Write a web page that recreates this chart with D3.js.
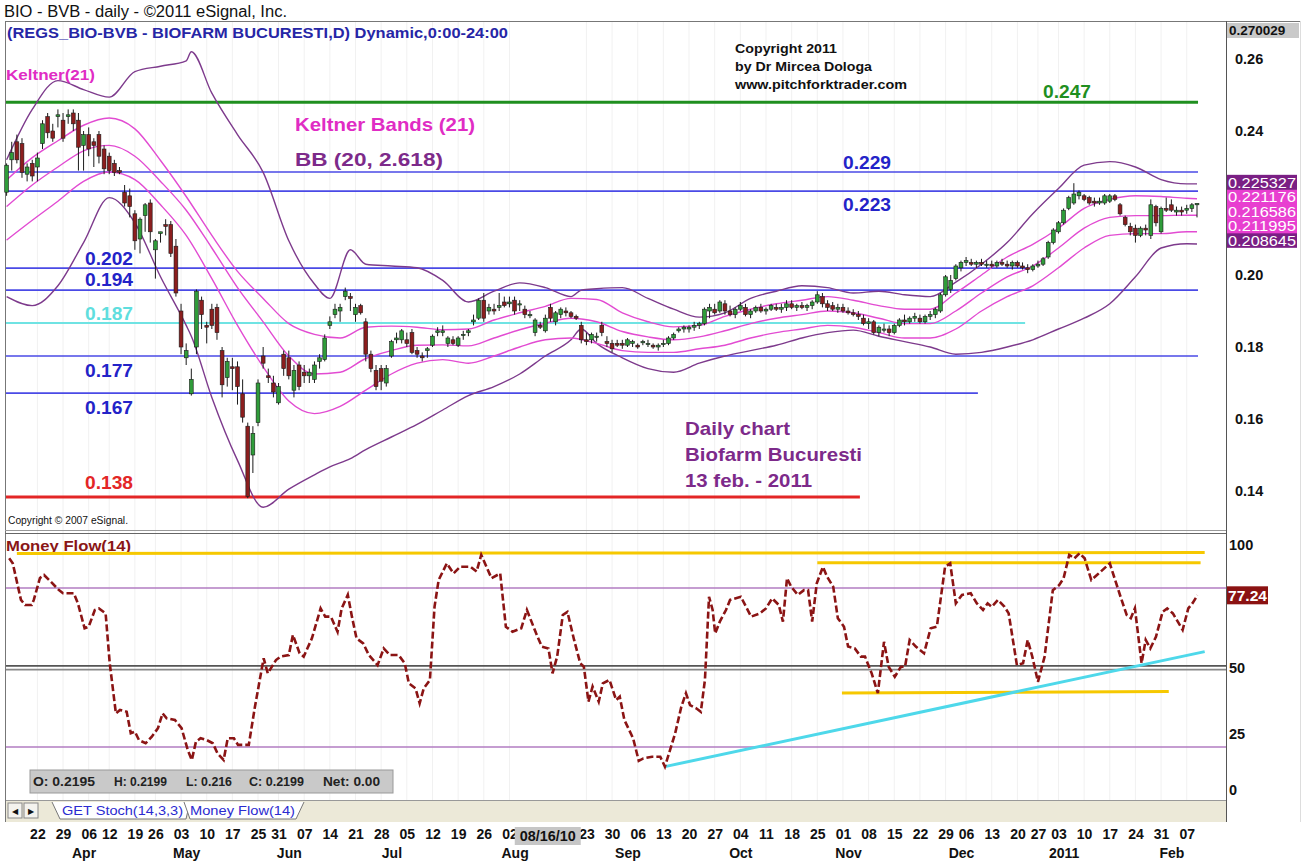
<!DOCTYPE html>
<meta charset="utf-8">
<style>
body { margin: 0; background: #fff; }
svg text { font-family: "Liberation Sans", Arial, sans-serif; }
</style>
<body>
<svg id="chart" width="1312" height="865"></svg>
<script src="https://d3js.org/d3.v7.min.js"></script>
<script>
// ---- price data, thousandths of a leu, one entry per trading day ----
var opens = [223,232,237,236.5,228,231,230,236.5,244,240,
  244,243,244,245,243,236,239,237,239,235,
  233,231,229,223,222,217,210,216.5,220,207,
  211.5,214,214,208,190,177,167,180,193,186,
  190.5,191,179,171.5,174.5,174.5,167,158,150,159,
  177.5,172,170,164.5,178,177,168,175,173,172,
  171,176,176.5,186,189,190,194,194,189,191.5,
  187,178,173.5,174,170,177.5,182,182,182,184,
  179,177.5,179,180.5,184,184,181,182,180.5,183.5,
  184,187,188,193,190,190.5,191,192.5,192,193,
  192,190.5,189,184,186,184.5,191,187,189,190,
  189.5,188.5,186,182,182,183,186,181.5,181,181,
  181,180.5,181,180.5,181.5,181,180.5,180,181,181,
  182.5,184.5,185,185,185.5,186,186.5,190,190.5,190,
  192,190,189,190.5,191,189,190,191,190,190.5,
  191,190.5,191,192,191,191.5,191,191.5,192.5,194,
  192,191.5,190.5,191,190,189.5,189,188,186.5,187,
  184,185,185,184,186,187.5,187,188,188,187,
  188.5,189,190,194.5,196,199,202,203.5,203.5,203,
  203.5,203,203,202.5,203.5,203,202.5,203.5,202.5,202,
  201.5,202.5,203,205,209,212,214.5,218.5,220,222,
  222,221.5,220.5,220,220,220.5,222,219.5,216,213.5,
  213,211,213,211,219,212,218.5,219.5,217.5,218,
  218,218.5,219.5];
var highs = [231,237,239,238,231,232,234,243,245,242,
  246,245,246,246,245,240,241,238,240,236,
  234,232,230,225,224,218,216,220,221,210,
  212,215.5,215,210,192,181,174,196,194,187,
  192,192,180,177,177,176,171,159,158,171,
  180,174,172,170,179,179,175,176,175,174,
  176,178,183.5,188.5,192,192,196.5,195,192,192,
  188,179,175,175,175,182,184,185,184,185,
  180,178.5,180,183.5,185.5,186,183,183,183,184.5,
  185,189,193.5,195,192,192,195,194,194,194,
  193,191.5,190,188,187,189,192,190,191,191,
  190,189,187,184,184,184,187,183,182,182,
  182,182.5,182,181,182,182,181,181,182,183,
  184,185.5,186,186,187,187,191,192,192,193,
  193,191.5,191,192.5,192,190.5,191.5,192,191,192,
  192,192,193,193,192,192.5,192,193,195.5,195,
  193,192.5,192,192,191,190.5,190,189,188,187.5,
  186,186.5,186,186.5,188,189,188.5,189.5,189,189,
  190,191,195,200,200,203,204,205,204.5,204,
  204.5,204,204,204,204.5,204,204,204,203.5,203,
  203,204,205,209.5,213,215,218.5,222,225.5,223.5,
  222.5,222,221.5,221.5,222.5,222.5,222.5,220,216.5,214.5,
  214,213.5,214,221,219.5,219,221.5,221,219,219,
  219.5,220,219.9];
var lows = [222,229,231,227,226,226,226,235,238,237,
  241,237,242,240,229,229,233,230,231,228,
  228,227.5,228,219,216,207,206,212,209,199,
  209,211,205,194,178,175,166.5,178,185,181,
  185,182,166,169,168,164,159,138,145,158,
  174,170,166,164,172,171,166,168,170,170,
  170,174,176,185,188,187,193,190,187,189,
  176,173,168,168,169,177,181,181,180,178,
  177,176,177,180,183,183,180,180.5,180,182,
  183,186,187.5,187,189,189,190,191,191,189,
  190,188,188,183,185,184,187,186,188,188.5,
  188,187.5,181,180.5,181,181.5,183,180,178.5,180,
  179.5,180,180,179.5,180.5,180,179.5,179,180,180.5,
  182,184,184,184,184.5,185,186,188,189,189.5,
  189,188.5,188,190,188.5,188,189.5,189.5,189,190,
  190,189.5,190,190.5,190,190.5,190,190.5,192,191,
  190,190,189.5,189.5,189,188.5,187.5,186,185,183.5,
  183,184,183,183.5,185.5,186,186.5,187,186.5,186.5,
  187.5,188,189.5,194,195,198.5,201,202.5,202.5,202,
  202.5,202,202,202,202.5,202,201.5,202,201.5,200.5,
  201,202,202.5,204.5,208.5,211.5,214,218,219.5,221,
  220.5,219.5,219,219.5,219.5,220,220.5,216.5,213.5,211,
  209,210.5,211,210,213.5,211.5,217.5,217.5,216.5,216.5,
  217,217.5,216];
var closes = [230.5,234,232,228.5,230,227.5,232.5,242,239.5,238,
  244.5,238,244.5,242,235.5,239,235,236,233,229.5,
  229,228.5,228.5,220,219,209.5,215.5,219.5,212,209.5,
  212,213.5,206,195,180,179,171,195.5,189,185.5,
  186,184,169.5,176,174,169,160.5,138.5,156,170,
  175.5,171.5,167.5,169,174,172,173.5,169,172,173,
  175,177,182.5,187,190.5,191,195.5,193.5,191,189.5,
  178,174,169,170.5,174,181.5,182.5,184.5,181,178.5,
  178,177,179.5,183,184.5,184.5,182.5,181,182.5,183.5,
  184.5,187.5,193,188,191,190,191.5,191.5,192.5,190,
  192,189,189,187.5,185.5,188,188,189.5,190.5,189.5,
  188.5,188,182,181.5,183.5,183,184,181,179.5,180.5,
  180.5,182,181.5,180,181.5,181,180,180.5,181,182.5,
  183.5,185,185.5,185.5,186,186.5,190.5,191,189.5,192.5,
  190,189,190.5,191.5,189,190,191,190,190.5,191.5,
  190.5,191,192,191,191.5,191,191.5,192.5,194.5,192,
  191,190.5,191,190,189.5,189,188.5,186.5,187,184,
  185.5,185,184,186,187.5,187,188,188.5,187,188.5,
  189,190.5,194.5,199.5,198.5,202.5,203.5,204,203,203.5,
  203,203,202.5,203.5,203,202.5,203.5,202.5,202,201.5,
  202.5,203,204.5,209,212.5,214.5,218,221.5,222.5,223,
  221,220,220,220.5,222,222,221,217,214,212,
  211,213,212.5,219.5,214.5,218.5,218,218,218,217.5,
  218.5,219.5,219.9];

// Keltner(21) bands, read every 5 trading days
var kDays = [0,5,10,15,20,25,30,35,40,45,50,55,60,65,70,75,80,85,90,95,
  100,105,110,115,120,125,130,135,140,145,150,155,160,165,170,175,180,185,190,195,
  200,205,210,215,220,225,230,232];
var kUpper = [226.4,232.6,237.3,241.6,243.6,240.6,231.8,221.8,211,201,
  193.5,186.5,183.5,182.5,185.5,185.8,185.5,184.8,185,187.5,
  189.5,191.3,193.5,193.2,189.5,187,185.6,186,188.5,190.5,
  192,193,194,193,191.5,190.5,190.5,195,200,205,
  208.5,213,218.5,221,222,221.8,221.3,221.2];
var kMid = [219,225,230,234.5,236,233,226,218,207.5,196.5,
  187,177.5,172.5,173,176.8,179,180.5,180.6,180.3,182.5,
  184.8,186.6,188,187,184.3,182.8,182,182.8,184.5,186.5,
  188,189,190,189.5,188,186.5,186.5,190,195,199.5,
  202.5,207.5,213,216,216.5,216.5,216.6,216.6];
var kLower = [209.7,215.2,220.5,226,228.6,226.5,219.5,211,199,186,
  174.5,165,161.5,163.5,168,172.5,175.5,176.5,175.5,177.5,
  180,182,182.5,181,179,178.5,178.5,179.5,180.5,182.5,
  184,185,186,185.5,184,182.5,182.5,185,190,194,
  197,202,207.5,211,211.5,211.5,212,212];

// Bollinger bands (20, 2.618)
var bbDays = [0,5,10,15,20,25,30,35,36,40,45,50,55,60,63,67,70,75,80,85,90,95,100,105,110,112,
  115,120,125,130,135,140,145,150,155,160,165,170,175,180,185,190,195,200,205,210,215,220,225,230,232];
var bbUpper = [232,246,254,251.5,249.4,256.5,258,259.5,262,250.5,239,228.5,209.5,197.5,193.5,207,
  203,202.5,202,198.5,192.5,195.5,197.8,196.5,194,195.8,
  196.2,196.5,193.5,190.5,188.3,189.5,193.5,195.5,197,196.5,195,195.5,194.5,194,198,203,209,217,224,230.5,231.5,230,226.5,225.3,225.3];
var bbLower = [194,191.5,197,209,221.5,214.5,199.5,186,183,166,148.5,135.5,140.5,144.5,146.7,149,
  151.5,155,158.5,162.5,166.5,169,172.5,177.5,182,185,
  181,177,174,173,175.5,177.5,179,180.5,182.5,184,184.7,183,181.5,180,178,178.5,180,182,185,188,192,199.5,207.5,208.7,208.6];

// drawn support / resistance levels
var levelVals = [248, 228.6, 223.3, 201.9, 195.8, 186.7, 177.5, 167.2, 138.3];
var levelEnds = [232.2, 232.2, 232.2, 199, 232.2, 198.5, 232.2, 189.3, 166.3];
var levelText = ["0.247", "0.229", "0.223", "0.202", "0.194", "0.187", "0.177", "0.167", "0.138"];

// values shown on the price scale
var scaleTop = 270.029;
var lastVals = [225.327, 221.176, 216.586, 211.995, 208.645];
var priceTicks = [140, 160, 180, 200, 240, 260];

// Money Flow(14)
var mfDay = [0.5,1.2,2.8,3.6,4.9,5.3,6.5,7.3,8.6,10.2,11,13.1,13.9,15.2,16,17.2,18,19.3,20.1,21.3,
  22.1,23.4,24.2,25,25.8,27.1,28.3,29.5,30.4,31.2,32.8,34.1,35.3,36.1,36.9,37.8,39,40.2,41.1,42.3,
  43.1,44.3,45.1,47.2,48.4,50.1,50.9,52.5,53.4,55,55.8,57.1,57.9,59.5,61.2,62.1,63.2,64.5,65.3,66.5,
  67.3,68.2,69.5,70.6,72.3,73.5,74.7,76.4,77.6,78.4,79.7,80.5,81.3,82.5,83.4,84.2,85.8,87.1,88.4,90.4,
  91.6,92.5,94.5,96.2,97.3,98.6,100.3,101.4,103.2,104.3,105.6,106.4,107.3,108.4,109.3,110.6,111.8,112.5,113.4,114.2,
  115.4,116.2,117.5,118.8,119.5,120.4,122.1,123.2,124.1,125.8,127.4,128.3,129.1,130.3,131.5,132.4,133.2,134.4,135.3,136.1,
  136.9,137.6,138.1,139,140.2,141,143.1,145.1,146.8,148,149.2,150.5,151.3,152.1,152.9,154.2,155.4,156.2,157,157.9,
  159.1,159.9,161.1,162,163.2,164,165.3,166.5,167.3,168.6,169.8,171,171.9,173.1,174.3,175.1,176,177.2,178.8,180.1,
  181.3,182.1,182.9,183.9,185,186.2,187.9,189.1,190.3,191.2,192,193.2,194.5,195.3,196.9,198.1,199,199.9,201,202.3,
  203.9,205.1,206,207.1,208.1,209.1,210.1,211.4,212.5,215,217.1,218.3,219.1,219.9,221.2,222,222.9,224,225.3,226.2,
  227.3,229.2,230.3,231.1,232.1];
var mfVal = [91.2,89.3,75.5,73.6,73.6,75.5,83.8,84.9,82.4,79.2,78,78,74.2,64.8,65.4,71.7,72.3,70.4,51.6,32.7,
  34,33.3,25.2,25.8,22.6,21.4,23.9,27.1,32.7,30.8,30.2,27.1,18.9,15.1,22,23.3,22.6,21.4,17.6,15.1,
  23.3,23.3,20.8,20.8,35.2,53.5,47.8,52.8,54.1,54.7,62.3,55.4,54.1,61,72.3,69.2,69.2,63.5,72.3,77.4,
  69.2,61,59.1,54.7,50.9,57.2,54.7,54.7,51.6,44,42.1,36.5,42.1,45.3,72.9,83,89.3,85.5,88,88,
  86.2,92.5,83.7,85.5,65.4,63.5,64.8,71.7,62.9,57.9,57.2,47.8,54.1,69.8,71,60.4,51.6,50.3,37.1,42.8,
  37.1,44,45.3,37.7,39,30.2,23.3,14.8,15.7,16.3,16.3,12.6,17.6,25.2,35.2,40.3,35.8,34.6,33.3,45.3,
  76.7,71.7,62.9,67.3,71.7,75.5,76.7,69.2,70.4,72.3,76.1,73.6,67.3,83.7,80.5,77.4,79.2,79.2,67.3,81.8,
  88,84.3,80.5,68.6,65.4,57.9,57.2,54.1,54.1,47.8,40.3,59.7,50.3,46.5,50.3,50.3,60.4,57.9,55.4,64.8,
  65.4,76.7,88,89.3,74.2,77.4,78,74.2,71.7,74.2,72.9,75.5,72.9,70.4,50.9,51.6,60.4,54.1,44.6,54.1,
  79.2,81,83.7,92.5,91.2,93.1,91.2,83,84.9,89.3,76.7,69.8,68.6,72.3,51.6,60.4,57.2,61.6,71,72.3,
  70.4,64.2,72.3,74.2,77.24];
var mfTicks = [0, 25, 50, 100];
var mfGuides = [80, 20];
// hand drawn lines on the money flow pane: [day1, value1, day2, value2]
var mfYellow = [[2, 93, 233.5, 93.4], [158, 89.5, 232.7, 89.5], [162.8, 40.4, 226.5, 40.9]];
var mfCyan = [128.3, 12.6, 233.5, 56];

// date axis (09 and 16 Aug sit under the cursor date box)
var weekIdx = [6,11,16,20,25,29,34,39,44,49,53,58,63,68,73,78,83,88,93,98,113,118,123,128,133,138,
  143,148,153,158,163,168,173,178,183,187,192,197,201,205,210,215,220,225,230];
var weekLbl = ["22","29","06","12","19","26","03","10","17","25","31","07","14","21","28","05","12","19","26","02","23","30",
  "06","13","20","27","04","11","18","25","01","08","15","22","29","06","13","20","27","03","10","17","24","31","07"];
var monthIdx = [15,35,55,75,99,121,143,164,186,206,227];
var monthLbl = ["Apr","May","Jun","Jul","Aug","Sep","Oct","Nov","Dec","2011","Feb"];
var cursorIdx = 108, cursorLbl = "08/16/10";

// ---------------------------------------------------------------
var svg = d3.select("#chart");
var x = d3.scaleLinear().domain([0, 232]).range([6.6, 1197]);
var yP = d3.scaleLinear().domain([140, 260]).range([491, 59]);
var yM = d3.scaleLinear().domain([0, 100]).range([800, 535]);
var last = closes.length - 1;

svg.append("rect").attr("width", 1312).attr("height", 865).attr("fill", "#fff");

// faint weekly grid
svg.append("g").selectAll("line").data(weekIdx).join("line")
    .attr("x1", d => x(d)).attr("x2", d => x(d))
    .attr("y1", 22).attr("y2", 800)
    .attr("stroke", "#f1f1f1").attr("stroke-width", 1);

// frame
var frame = svg.append("g").attr("stroke", "#777").attr("fill", "none");
frame.append("line").attr("x1", 5).attr("x2", 1300).attr("y1", 21.5).attr("y2", 21.5);
frame.append("line").attr("x1", 5.5).attr("x2", 5.5).attr("y1", 21).attr("y2", 822);
frame.append("line").attr("x1", 1226.5).attr("x2", 1226.5).attr("y1", 21).attr("y2", 822).attr("stroke", "#555");
frame.append("line").attr("x1", 5).attr("x2", 1226).attr("y1", 530.5).attr("y2", 530.5).attr("stroke", "#999");
frame.append("line").attr("x1", 5).attr("x2", 1226).attr("y1", 533.5).attr("y2", 533.5).attr("stroke", "#666");
frame.append("line").attr("x1", 1300.5).attr("x2", 1300.5).attr("y1", 21).attr("y2", 822).attr("stroke", "#ddd");

// header texts
svg.append("text").attr("x", 4).attr("y", 17).attr("font-size", 16).attr("fill", "#111")
    .attr("textLength", 283).attr("lengthAdjust", "spacingAndGlyphs")
    .text("BIO - BVB - daily - \u00a92011 eSignal, Inc.");
svg.append("text").attr("x", 7).attr("y", 38).attr("font-size", 15.5).attr("font-weight", "bold").attr("fill", "#2626a6")
    .attr("textLength", 501).attr("lengthAdjust", "spacingAndGlyphs")
    .text("(REGS_BIO-BVB - BIOFARM BUCURESTI,D) Dynamic,0:00-24:00");
svg.append("text").attr("x", 6).attr("y", 80).attr("font-size", 15).attr("font-weight", "bold").attr("fill", "#e02cc4")
    .attr("textLength", 89).attr("lengthAdjust", "spacingAndGlyphs")
    .text("Keltner(21)");
var cp = svg.append("g").attr("font-size", 13.5).attr("font-weight", "bold").attr("fill", "#111");
[["Copyright 2011", 102], ["by Dr Mircea Dologa", 137], ["www.pitchforktrader.com", 172]].forEach(function(t, k) {
  cp.append("text").attr("x", 735).attr("y", 53 + k * 18).attr("textLength", t[1])
      .attr("lengthAdjust", "spacingAndGlyphs").text(t[0]);
});

// level lines
var levelColor = ["#1f8f1f","#4a4ae6","#4a4ae6","#4a4ae6","#4a4ae6","#6fe3e3","#4a4ae6","#4a4ae6","#e32626"];
var levelWidth = [3, 1.6, 1.6, 1.6, 1.6, 2, 1.6, 1.6, 3];
svg.append("g").selectAll("line").data(levelVals).join("line")
    .attr("x1", 6).attr("x2", (d, i) => x(levelEnds[i]))
    .attr("y1", d => yP(d)).attr("y2", d => yP(d))
    .attr("stroke", (d, i) => levelColor[i]).attr("stroke-width", (d, i) => levelWidth[i]);

// Bollinger + Keltner
var bandLine = function(days, vals) {
  return d3.line().x((d, i) => x(days[i])).y(d => yP(d)).curve(d3.curveMonotoneX)(vals);
};
[bbUpper, bbLower].forEach(function(arr) {
  svg.append("path").attr("d", bandLine(bbDays, arr)).attr("fill", "none")
      .attr("stroke", "#7d3a8c").attr("stroke-width", 1.4);
});
[kUpper, kMid, kLower].forEach(function(arr) {
  svg.append("path").attr("d", bandLine(kDays, arr)).attr("fill", "none")
      .attr("stroke", "#e24bd2").attr("stroke-width", 1.4);
});

// candles
var idx = d3.range(closes.length);
var cg = svg.append("g").selectAll("g").data(idx).join("g");
cg.append("line")
    .attr("x1", i => x(i)).attr("x2", i => x(i))
    .attr("y1", i => yP(highs[i])).attr("y2", i => yP(lows[i]))
    .attr("stroke", "#1b1b1b").attr("stroke-width", 1);
cg.append("rect")
    .attr("x", i => x(i) - 1.9).attr("width", 3.8)
    .attr("y", i => yP(Math.max(opens[i], closes[i])))
    .attr("height", i => Math.max(1.2, Math.abs(yP(opens[i]) - yP(closes[i]))))
    .attr("fill", i => closes[i] >= opens[i] ? "#2f9c3a" : "#8c1e1e")
    .attr("stroke", "#1b1b1b").attr("stroke-width", 0.6);

// level labels
var lvl = svg.append("g").attr("font-size", 19).attr("font-weight", "bold");
var lvlPos = [[1043, 98], [843, 169], [843, 211], [85, 265], [85, 286], [85, 320], [85, 377], [85, 414], [85, 489]];
var lvlTextColor = ["#1f8f1f","#2323c8","#2323c8","#2323c8","#2323c8","#5fdede","#2323c8","#2323c8","#e32626"];
levelText.forEach(function(t, i) {
  lvl.append("text").attr("x", lvlPos[i][0]).attr("y", lvlPos[i][1]).attr("fill", lvlTextColor[i])
      .attr("textLength", 48).attr("lengthAdjust", "spacingAndGlyphs").text(t);
});
var big = svg.append("g").attr("font-size", 19).attr("font-weight", "bold");
[["Keltner Bands (21)", 295, 131, 180, "#e02cc4"], ["BB (20, 2.618)", 295, 166, 148, "#7d2a8a"],
 ["Daily chart", 685, 435, 105, "#7d2a8a"], ["Biofarm Bucuresti", 685, 461, 177, "#7d2a8a"],
 ["13 feb. - 2011", 685, 487, 127, "#7d2a8a"]].forEach(function(t) {
  big.append("text").attr("x", t[1]).attr("y", t[2]).attr("fill", t[4])
      .attr("textLength", t[3]).attr("lengthAdjust", "spacingAndGlyphs").text(t[0]);
});
svg.append("text").attr("x", 8).attr("y", 524).attr("font-size", 10).attr("fill", "#111")
    .attr("textLength", 120).attr("lengthAdjust", "spacingAndGlyphs")
    .text("Copyright \u00a9 2007 eSignal.");

// price scale
var pa = svg.append("g").attr("transform", "translate(1226,0)")
    .call(d3.axisRight(yP).tickValues(priceTicks).tickSize(0).tickPadding(9)
      .tickFormat(d => (d / 1000).toFixed(2)));
pa.select(".domain").remove();
pa.selectAll("text").attr("font-size", 14.5).attr("font-weight", "bold").attr("fill", "#111")
    .attr("font-family", "Liberation Sans, Arial, sans-serif");
svg.append("rect").attr("x", 1227).attr("y", 23).attr("width", 72).attr("height", 15).attr("fill", "#c9c9c9");
svg.append("text").attr("x", 1229).attr("y", 35).attr("font-size", 13.5).attr("font-weight", "bold")
    .attr("fill", "#111").text((scaleTop / 1000).toFixed(6));

var boxFill = ["#7a1f84", "#e83fd0", "#e83fd0", "#e83fd0", "#7a1f84"];
for (var k = lastVals.length - 1; k >= 0; k--) {
  var cy = yP(lastVals[0]) - 1.5 + k * 14.5;
  svg.append("rect").attr("x", 1227).attr("y", cy - 7.5).attr("width", 70).attr("height", 15).attr("fill", boxFill[k]);
  svg.append("text").attr("x", 1228).attr("y", cy + 5.5).attr("font-size", 14.5).attr("fill", "#fff")
      .attr("textLength", 68).attr("lengthAdjust", "spacingAndGlyphs")
      .text((lastVals[k] / 1000).toFixed(6));
}

// ---- money flow pane ----
svg.append("text").attr("x", 6).attr("y", 551).attr("font-size", 15.5).attr("font-weight", "bold")
    .attr("fill", "#8a1616").attr("textLength", 125).attr("lengthAdjust", "spacingAndGlyphs").text("Money Flow(14)");
svg.append("g").selectAll("line").data(mfGuides).join("line")
    .attr("x1", 6).attr("x2", 1226).attr("y1", d => yM(d)).attr("y2", d => yM(d))
    .attr("stroke", "#b27cc2").attr("stroke-width", 1.5);
[49.2, 50.6].forEach(function(v, k) {
  svg.append("line").attr("x1", 6).attr("x2", 1226).attr("y1", yM(v)).attr("y2", yM(v))
      .attr("stroke", k ? "#555" : "#888").attr("stroke-width", 1.6);
});
svg.append("g").selectAll("line").data(mfYellow).join("line")
    .attr("x1", d => x(d[0])).attr("y1", d => yM(d[1]))
    .attr("x2", d => x(d[2])).attr("y2", d => yM(d[3]))
    .attr("stroke", "#f6c800").attr("stroke-width", 3);
svg.append("line").attr("x1", x(mfCyan[0])).attr("y1", yM(mfCyan[1]))
    .attr("x2", x(mfCyan[2])).attr("y2", yM(mfCyan[3]))
    .attr("stroke", "#4ed8ea").attr("stroke-width", 3);
svg.append("path")
    .attr("d", d3.line().x((d, i) => x(mfDay[i])).y(d => yM(d))(mfVal))
    .attr("fill", "none").attr("stroke", "#8b1414").attr("stroke-width", 2.6)
    .attr("stroke-dasharray", "7,3");

svg.append("g").selectAll("text").data(mfTicks).join("text")
    .attr("x", 1229).attr("y", d => Math.min(Math.max(yM(d), 545), 790) + 5)
    .attr("font-size", 14.5).attr("font-weight", "bold").attr("fill", "#111")
    .text(d => d);
svg.append("rect").attr("x", 1227).attr("y", yM(mfVal[mfVal.length - 1]) - 9).attr("width", 41).attr("height", 18).attr("fill", "#8b1212");
svg.append("text").attr("x", 1228).attr("y", yM(mfVal[mfVal.length - 1]) + 5.5).attr("font-size", 15)
    .attr("font-weight", "bold").attr("fill", "#fff").attr("textLength", 39).attr("lengthAdjust", "spacingAndGlyphs")
    .text(mfVal[mfVal.length - 1].toFixed(2));

// OHLC info box
svg.append("rect").attr("x", 30).attr("y", 770).attr("width", 363).attr("height", 23)
    .attr("fill", "#c9c9c9").attr("stroke", "#999");
var trim = v => String(+(v / 1000).toFixed(4));
var info = ["O: " + trim(opens[last]), "H: " + trim(highs[last]), "L: " + trim(lows[last]),
  "C: " + trim(closes[last]), "Net:  " + ((closes[last] - closes[last]) / 1000).toFixed(2)];
var infoX = [33, 114, 186, 249, 323], infoW = [62, 53, 46, 55, 57];
info.forEach(function(t, k) {
  svg.append("text").attr("x", infoX[k]).attr("y", 786).attr("font-size", 12.5).attr("font-weight", "bold")
      .attr("fill", "#222").attr("textLength", infoW[k]).attr("lengthAdjust", "spacingAndGlyphs").text(t);
});

// ---- tab bar ----
svg.append("rect").attr("x", 6).attr("y", 800).attr("width", 1220).attr("height", 22).attr("fill", "#ece9d8");
svg.append("line").attr("x1", 6).attr("x2", 1226).attr("y1", 800.5).attr("y2", 800.5).attr("stroke", "#999");
[[8, "\u25c0"], [24, "\u25b6"]].forEach(function(b) {
  svg.append("rect").attr("x", b[0]).attr("y", 803).attr("width", 14).attr("height", 15)
      .attr("fill", "#f4f3ee").attr("stroke", "#888");
  svg.append("text").attr("x", b[0] + 7).attr("y", 814).attr("text-anchor", "middle")
      .attr("font-size", 8).attr("fill", "#111").text(b[1]);
});
svg.append("path").attr("d", "M52,802 L60,819 L186,819 L190,802").attr("fill", "#fff").attr("stroke", "#777");
svg.append("path").attr("d", "M184,802 L190,819 L296,819 L304,802").attr("fill", "#fff").attr("stroke", "#777");
svg.append("text").attr("x", 62).attr("y", 815).attr("font-size", 13.5).attr("fill", "#2b2bd0")
    .attr("textLength", 121).attr("lengthAdjust", "spacingAndGlyphs").text("GET Stoch(14,3,3)");
svg.append("text").attr("x", 190).attr("y", 815).attr("font-size", 13.5).attr("fill", "#2b2bd0")
    .attr("textLength", 105).attr("lengthAdjust", "spacingAndGlyphs").text("Money Flow(14)");

// ---- date axis ----
var wa = svg.append("g").attr("transform", "translate(0,826)")
    .call(d3.axisBottom(x).tickValues(weekIdx).tickSize(0).tickPadding(3)
      .tickFormat((d, i) => weekLbl[i]));
wa.select(".domain").remove();
wa.selectAll("text").attr("font-size", 14).attr("font-weight", "bold").attr("fill", "#111")
    .attr("font-family", "Liberation Sans, Arial, sans-serif");
var ma = svg.append("g").attr("transform", "translate(0,846)")
    .call(d3.axisBottom(x).tickValues(monthIdx).tickSize(0).tickPadding(2)
      .tickFormat((d, i) => monthLbl[i]));
ma.select(".domain").remove();
ma.selectAll("text").attr("font-size", 14).attr("font-weight", "bold").attr("fill", "#111")
    .attr("font-family", "Liberation Sans, Arial, sans-serif");
// cursor date box
svg.append("rect").attr("x", x(cursorIdx) - 46).attr("y", 827).attr("width", 66).attr("height", 18).attr("fill", "#c6c6c6");
svg.append("text").attr("x", x(cursorIdx) - 13).attr("y", 841).attr("text-anchor", "middle").attr("font-size", 14)
    .attr("font-weight", "bold").attr("fill", "#111").attr("textLength", 56).attr("lengthAdjust", "spacingAndGlyphs")
    .text(cursorLbl);
</script>
</body>
